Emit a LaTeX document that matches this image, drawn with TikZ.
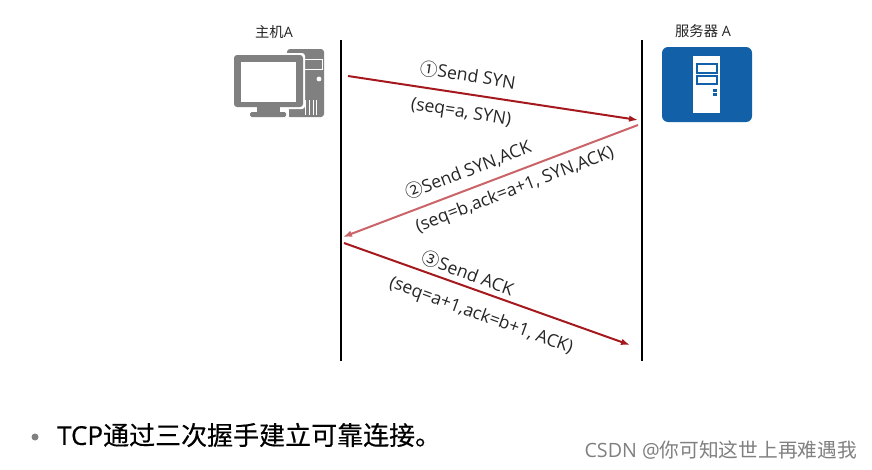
\documentclass[tikz,border=0pt]{standalone}
\usepackage{fontspec}
\setmainfont{Open Sans}
\newfontfamily\cjk{Noto Sans CJK SC}
\newfontfamily\cjkheavy[FakeBold=0.35]{Noto Sans CJK SC}
\newfontfamily\noteheavy[FakeBold=0.35]{Open Sans}
\usetikzlibrary{arrows.meta}
\definecolor{arrowred}{HTML}{A5191E}
\definecolor{arrowpale}{HTML}{CB6468}
\definecolor{iconblue}{HTML}{1160A8}
\definecolor{icongray}{HTML}{808080}
\tikzset{
    lifeline/.style={line width=2.2pt, black},
    msg/.style={line width=2pt, arrowred, -{Latex[length=9pt,width=6.5pt]}},
    msgpale/.style={msg, arrowpale},
    msglabel/.style={inner sep=0pt, text=black!85, font=\fontsize{17.6}{20}\selectfont},
    hostlabel/.style={inner sep=0pt, text=black!85, font=\fontsize{14.3}{17}\selectfont},
}

\begin{document}
\begin{tikzpicture}[x=1pt, y=-1pt]
    \useasboundingbox[fill=white] (0,0) rectangle (872,469);

    % Lifelines
    \coordinate (hostTop) at (341,40);
    \coordinate (hostBot) at (341,361);
    \coordinate (srvTop) at (642,40);
    \coordinate (srvBot) at (642,361);
    \draw[lifeline] (hostTop) -- (hostBot);
    \draw[lifeline] (srvTop) -- (srvBot);

    \node[hostlabel] (hostName) at (274,32) {{\cjk 主机}A};
    \node[hostlabel] (srvName) at (703,31) {{\cjk 服务器} A};

    % Host icon
    \fill[icongray, rounded corners=3pt] (287,49) rectangle (324,117);
    \draw[white, line width=1pt] (303,59) rectangle (322,69);
    \fill[white] (319,79) circle (2.4pt);
    \foreach \x in {305,309,313,316}
        \draw[white, line width=1pt] (\x,100) -- (\x,115);
    \fill[white, rounded corners=3pt] (232,53) rectangle (305,109);
    \fill[icongray, rounded corners=3pt] (234,55) rectangle (303,107);
    \fill[white] (241,62) rectangle (296,102);
    \fill[white] (285,109) rectangle (288.5,117);
    \fill[icongray] (257,107) rectangle (280,112);
    \fill[icongray, rounded corners=1.5pt] (250,112) rectangle (286,117);

    % Server icon
    \fill[iconblue, rounded corners=6pt] (662,47) rectangle (752,122);
    \fill[white] (693,56) rectangle (720,113);
    \draw[iconblue, line width=1.6pt] (697,64) rectangle (717,73);
    \draw[iconblue, line width=1.6pt] (697,76) rectangle (717,84);
    \foreach \y in {90,94}
        \fill[iconblue] (713,\y-1.5) rectangle (717,\y+1.5);

    % Messages
    \coordinate (synFrom) at (348,76);
    \coordinate (synTo) at (638,120);
    \coordinate (ackFrom) at (638,125);
    \coordinate (ackTo) at (343,237);
    \coordinate (lastFrom) at (344,243);
    \coordinate (lastTo) at (630,345);
    \draw[msg] (synFrom) -- (synTo);
    \draw[msgpale] (ackFrom) -- (ackTo);
    \draw[msg] (lastFrom) -- (lastTo);

    \node[msglabel, rotate=-9] (synTop) at (468,75) {{\cjk ①}Send SYN};
    \node[msglabel, rotate=-9] (synSub) at (461,113) {(seq=a, SYN)};
    \node[msglabel, rotate=21] (ackTop) at (468,170) {{\cjk ②}Send SYN,ACK};
    \node[msglabel, rotate=21] (ackSub) at (515,190) {(seq=b,ack=a+1, SYN,ACK)};
    \node[msglabel, rotate=-20] (lastTop) at (468,273) {{\cjk ③}Send ACK};
    \node[msglabel, rotate=-20] (lastSub) at (481,316) {(seq=a+1,ack=b+1, ACK)};

    % Bottom line and mark
    \fill[icongray] (35,437) circle (3.5pt);
    \node[anchor=west, inner sep=0pt, font=\fontsize{26}{30}\selectfont] (note) at (57,435) {{\noteheavy TCP}{\cjkheavy 通过三次握手建立可靠连接。}};
    \node[anchor=east, inner sep=0pt, text=black!50, font=\fontsize{19.7}{23}\selectfont] (mark) at (857,450) {CSDN @{\cjk 你可知这世上再难遇我}};
\end{tikzpicture}
\end{document}
